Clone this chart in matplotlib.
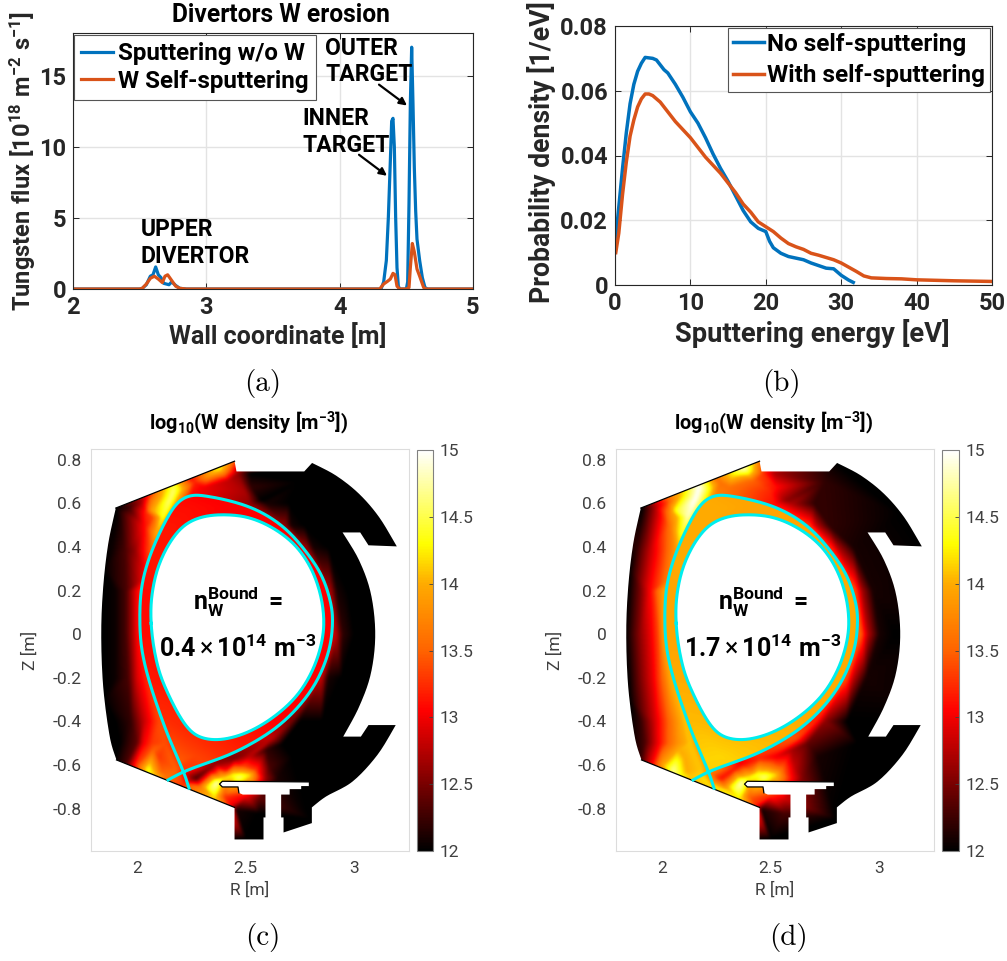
import numpy as np
import matplotlib
matplotlib.use("Agg")
import matplotlib.pyplot as plt
import matplotlib.tri as mtri
from matplotlib.colors import LinearSegmentedColormap
from matplotlib.patches import PathPatch
from matplotlib.path import Path

plt.rcParams['font.family'] = ['Roboto', 'DejaVu Sans']
plt.rcParams['mathtext.fontset'] = 'custom'
plt.rcParams['mathtext.rm'] = 'Roboto'
plt.rcParams['mathtext.bf'] = 'Roboto:bold'
plt.rcParams['mathtext.it'] = 'Roboto:italic'

# ---------- panel (a) ----------
WALL_X = [2, 2.5, 2.52, 2.55, 2.58, 2.6, 2.62, 2.64, 2.66, 2.68, 2.7, 2.72, 2.74, 2.77, 2.8, 2.85,
          4.3, 4.31, 4.33, 4.35, 4.365, 4.38, 4.39, 4.40, 4.41, 4.42, 4.43, 4.44, 4.45,
          4.50, 4.51, 4.52, 4.53, 4.54, 4.55, 4.56, 4.57, 4.58, 4.60, 4.62, 4.64, 4.66, 5]
FLUX_SPUTTER = [0, 0, .05, .3, .9, 1.0, 1.55, 1.0, .8, .4, .35, .3, .5, .25, .05, 0,
                0, 0, .5, 2, 5, 9, 11.8, 12, 10, 5, 1.5, .2, 0,
                0, .5, 6, 13, 17, 13, 8.5, 5.5, 3.5, 2, .8, .1, 0, 0]
SELF_X = [2, 2.5, 2.52, 2.55, 2.58, 2.61, 2.64, 2.67, 2.69, 2.71, 2.74, 2.77, 2.8, 2.85,
          4.3, 4.33, 4.36, 4.38, 4.40, 4.415, 4.43, 4.45, 4.5, 4.52, 4.53, 4.545, 4.56, 4.58, 4.60, 4.63, 4.65, 5]
FLUX_SELF = [0, 0, .05, .35, .75, .9, .7, .45, .9, 1.0, .6, .2, .05, 0,
             0, .35, .55, .7, 1.1, 1.0, .2, 0, 0, .1, 1.5, 3.2, 2.6, 1.4, .9, .1, 0, 0]

# ---------- panel (b) ----------
E_NO = [0, .5, 1, 1.5, 2, 2.5, 3, 3.5, 4, 5, 5.5, 6, 6.5, 7, 8, 9, 10, 11, 12, 13, 14, 15, 16, 17, 18, 19, 20,
        20.5, 21, 22, 23, 24, 25, 26, 27, 28, 29, 30, 31, 31.6]
PDF_NO = [.012, .024, .036, .047, .056, .062, .066, .0685, .0703, .070, .0695, .068, .0665, .0655, .062, .058,
          .0535, .050, .0455, .0405, .036, .032, .0275, .023, .0195, .0175, .0165, .0135, .0115, .0098, .0088,
          .0083, .0078, .0068, .006, .0052, .005, .003, .0015, .0008]
E_WITH = [.1, .5, 1, 1.5, 2, 2.5, 3, 3.5, 4, 4.5, 5, 6, 7, 8, 9, 10, 11, 12, 13, 14, 15, 16, 17, 18, 19, 20, 21, 22,
          23, 24, 25, 26, 27, 28, 29, 30, 31, 32, 33, 34, 36, 38, 40, 45, 50]
PDF_WITH = [.010, .016, .028, .038, .046, .051, .055, .0575, .059, .059, .0585, .0565, .0535, .0505, .048, .0455,
            .0425, .0395, .037, .0345, .0315, .0285, .025, .0225, .0195, .018, .0165, .0145, .0128, .0118, .011,
            .0098, .0092, .0085, .0078, .0068, .0055, .0042, .0028, .0022, .002, .0019, .0016, .0013, .0011]

# ---------- panels (c), (d): machine geometry, read in metres ----------
WALL_LEFT_R = [1.904, 1.869, 1.846, 1.837, 1.846, 1.876, 1.907]
WALL_LEFT_Z = [.579, .415, .217, .003, -.241, -.470, -.577]
DIVERTOR_R = [2.449, 2.449, 2.582, 2.582, 2.591, 2.591, 2.487, 2.469, 2.465, 2.393, 2.380, 2.393, 2.790, 2.790,
              2.755, 2.755, 2.702, 2.702, 2.663, 2.663, 2.674, 2.674, 2.804, 2.804]
DIVERTOR_Z = [-.795, -.942, -.942, -.841, -.841, -.736, -.736, -.728, -.701, -.701, -.688, -.675, -.678, -.697,
              -.697, -.711, -.711, -.736, -.736, -.841, -.841, -.910, -.867, -.795]
ARC_LOW_R = [2.804, 2.869, 2.991, 3.105, 3.189]
ARC_LOW_Z = [-.795, -.745, -.676, -.554, -.417]
NOTCH_LOW_R = [3.064, 3.029, 2.948]
NOTCH_LOW_Z = [-.417, -.470, -.470]
ARC_IN_R = [2.948, 3.021, 3.075, 3.095, 3.075, 3.021, 2.945]
ARC_IN_Z = [-.470, -.333, -.180, 0, .186, .339, .467]
NOTCH_UP_R = [3.026, 3.064, 3.194]
NOTCH_UP_Z = [.467, .408, .403]
ARC_UP_R = [3.194, 3.113, 3.021, 2.915, 2.805]
ARC_UP_Z = [.403, .537, .644, .728, .786]
TOP_R = [2.769, 2.458, 2.449]
TOP_Z = [.747, .747, .794]

SEP_R = [2.240, 2.215, 2.151, 2.090, 2.047, 2.021, 2.014, 2.021, 2.063, 2.133, 2.189, 2.250, 2.319, 2.441, 2.563,
         2.685, 2.785, 2.853, 2.892, 2.899, 2.884, 2.823, 2.716, 2.594, 2.441, 2.319, 2.215, 2.144]
SEP_Z = [-.707, -.631, -.485, -.318, -.180, -.058, .064, .217, .369, .522, .606, .637, .634, .609, .565,
         .484, .369, .263, .140, .049, -.073, -.226, -.363, -.463, -.547, -.592, -.631, -.669]
CORE_R = [2.063, 2.067, 2.082, 2.121, 2.182, 2.258, 2.365, 2.472, 2.563, 2.685, 2.762, 2.823, 2.853, 2.861, 2.846,
          2.785, 2.701, 2.579, 2.472, 2.365, 2.289, 2.227, 2.166, 2.121, 2.082]
CORE_Z = [.064, .156, .263, .369, .469, .530, .550, .545, .522, .453, .369, .263, .140, .049, -.073,
          -.218, -.325, -.417, -.467, -.489, -.473, -.432, -.318, -.226, -.104]

# ---------- scrape-off layer log10 W density samples ----------
SOL_R = [1.78, 3.25, 3.25, 1.78, 2.0, 3.25,
         1.906, 1.85, 1.84, 1.85, 1.90,
         1.90, 1.95, 1.99, 2.015,
         1.90, 1.95, 1.985, 2.005,
         1.90, 1.96, 2.00, 2.04,
         1.90, 1.97, 2.03, 2.09, 2.11,
         1.92, 2.0, 2.07, 2.13,
         2.38, 2.327, 2.266, 2.212, 2.166, 2.113, 2.067, 2.021, 1.96,
         2.151, 2.12, 2.09, 2.067, 2.044, 2.075, 2.067, 2.04, 2.036, 1.99, 1.945, 1.883,
         2.25, 2.31, 2.42, 2.464, 2.526, 2.571, 2.446, 2.52, 2.5,
         2.17, 2.10, 2.03, 2.25, 2.38,
         2.052, 1.998, 1.952, 2.10, 2.075, 2.029, 2.113, 2.09, 2.136, 2.18, 2.212, 2.05,
         2.273, 2.319, 2.289, 2.335, 2.365, 2.357, 2.403, 2.434,
         2.472, 2.44, 2.396, 2.518, 2.549, 2.487, 2.411, 2.61, 2.595, 2.65, 2.518, 2.365,
         2.503, 2.564, 2.457, 2.564, 2.50, 2.595, 2.67, 2.717,
         2.62, 2.45, 2.33,
         2.68, 2.71, 2.77, 2.78, 2.81, 2.88, 2.89, 2.92, 2.97,
         2.915, 2.945, 3.0, 2.85, 2.88, 2.94, 2.71, 2.75, 2.85,
         2.52, 2.6, 2.7, 2.75, 3.2, 3.2, 2.8, 3.1, 2.8, 3.07, 2.9]
SOL_Z = [.85, .85, -1.0, -1.0, -1.0, 0,
         .579, .30, 0, -.30, -.58,
         .2, .2, .2, .2,
         0, 0, 0, 0,
         -.2, -.2, -.2, -.2,
         -.4, -.4, -.4, -.4, -.4,
         -.5, -.5, -.5, -.5,
         .76, .729, .699, .668, .653, .638, .622, .607, .584,
         .615, .538, .462, .385, .263, .538, .569, .56, .492, .385, .385, .385,
         .645, .676, .706, .737, .676, .615, .795, .74, .65,
         .68, .655, .628, .715, .767,
         -.624, -.601, -.594, -.563, -.532, -.502, -.632, -.647, -.655, -.624, -.685, -.636,
         -.662, -.616, -.701, -.716, -.685, -.746, -.746, -.785,
         -.655, -.647, -.662, -.647, -.624, -.609, -.624, -.609, -.662, -.66, -.563, -.594,
         -.746, -.754, -.808, -.823, -.94, -.532, -.502, -.563,
         -.48, -.57, -.62,
         .5, .5, .5, .4, .4, .4, .2, .2, .2,
         0, 0, 0, -.2, -.2, -.2, -.4, -.4, -.4,
         .6, .6, .6, .7, .41, -.42, .79, .55, -.85, 0, -.5]
SOL_C = [12, 12, 12, 12, 12, 12,
         12, 12, 12, 12, 12,
         12.05, 12.3, 12.9, 13.2,
         12.05, 12.3, 12.8, 13.1,
         12.05, 12.3, 12.9, 13.2,
         12, 12.2, 12.8, 13.3, 13.4,
         12, 12.4, 13.3, 13.4,
         14.3, 13.9, 13.2, 14.0, 14.6, 14.0, 13.6, 12.7, 12.2,
         14.6, 14.4, 14.0, 13.5, 13.1, 13.4, 13.9, 13.2, 13.1, 12.6, 12.3, 12.05,
         13.1, 13.0, 12.8, 12.6, 12.2, 12.0, 13.5, 12.0, 12.7,
         14.5, 13.8, 12.8, 13.1, 14.3,
         14.4, 13.3, 12.3, 13.3, 13.5, 13.0, 13.5, 14.0, 13.6, 13.5, 13.3, 14.3,
         12.3, 12.7, 13.6, 14.4, 14.8, 14.2, 13.3, 13.0,
         14.6, 14.3, 14.2, 14.2, 13.3, 13.4, 13.1, 12.3, 12.6, 12.1, 12.8, 12.6,
         13.0, 12.4, 12.1, 12.0, 12, 12.2, 12.0, 12,
         12.8, 12.5, 12.5,
         12.6, 12.1, 12, 12.6, 12.1, 12, 12.7, 12.1, 12,
         12.8, 12.2, 12, 12.8, 12.1, 12, 12.5, 12, 12,
         12.6, 12.1, 12, 12, 12, 12, 12, 12, 12, 12, 12]
SOL_D = [12, 12, 12, 12, 12, 12,
         12, 12, 12.05, 12, 12.2,
         12.5, 13.1, 13.7, 14.0,
         12.6, 13.0, 13.4, 13.9,
         12.5, 13.0, 13.5, 14.0,
         12.2, 12.9, 13.5, 14.0, 14.1,
         12.3, 13.2, 13.8, 14.1,
         14.8, 14.2, 13.6, 14.4, 15.0, 14.4, 13.9, 13.3, 12.6,
         15.0, 14.8, 14.4, 13.9, 13.8, 14.1, 14.4, 13.8, 13.6, 13.2, 12.8, 12.2,
         13.7, 13.6, 13.5, 13.3, 13.1, 12.6, 13.7, 12.7, 13.2,
         15.0, 14.2, 13.6, 13.6, 14.8,
         14.7, 13.9, 13.0, 14.0, 14.0, 13.5, 14.0, 14.3, 14.1, 14.1, 14.2, 14.6,
         13.1, 13.3, 13.8, 14.5, 14.8, 14.3, 13.5, 13.2,
         14.6, 14.4, 14.3, 14.2, 13.6, 13.7, 13.6, 12.8, 13.1, 12.5, 13.0, 13.0,
         13.2, 12.9, 12.1, 12.3, 12, 12.7, 12.4, 12.1,
         13.4, 13.2, 13.1,
         13.3, 12.8, 12.2, 13.2, 12.7, 12.1, 13.4, 12.7, 12.1,
         13.5, 12.8, 12.1, 13.4, 12.8, 12.1, 13.2, 12.6, 12,
         13.1, 12.7, 12.2, 12.2, 12, 12, 12, 12, 12, 12, 12]

# ---------- confined ring between separatrix and core boundary ----------
RING_R = [1.78, 3.25, 3.25, 1.78,
          2.40, 2.25, 2.15, 2.09, 2.04, 2.04, 2.06, 2.14, 2.2, 2.27, 2.35, 2.5, 2.65, 2.8, 2.88, 2.87, 2.78, 2.62]
RING_Z = [.85, .85, -1.0, -1.0,
          .59, .58, .48, .32, .2, 0, -.2, -.4, -.58, -.56, -.53, -.5, -.38, -.2, 0, .2, .36, .52]
RING_C = [13.05, 13.05, 13.05, 13.05,
          13.05, 13.1, 13.15, 13.15, 13.1, 13.1, 13.15, 13.25, 13.45, 13.35, 13.25, 13.15, 13.05, 13.05, 13.05, 13.05, 13.05, 13.05]
RING_D = [14.0, 14.0, 14.0, 14.0,
          13.95, 14.0, 14.0, 14.0, 13.95, 13.95, 14.0, 14.05, 14.15, 14.15, 14.1, 14.05, 14.0, 14.0, 14.0, 14.0, 14.0, 13.95]

CBAR_TICKS = [12, 12.5, 13, 13.5, 14, 14.5, 15]
CBAR_LABELS = ['12', '12.5', '13', '13.5', '14', '14.5', '15']

BLUE = '#0072BD'
ORANGE = '#D95319'
DARK = '#262626'
W, H = 1007, 961
fig = plt.figure(figsize=(W / 100, H / 100), dpi=100)


def axes_px(left, top, right, bottom):
    return fig.add_axes([left / W, 1 - bottom / H, (right - left) / W, (bottom - top) / H])


def spline(r, z, n=12):
    p = np.column_stack([r, z]).astype(float)
    p = np.vstack([p[0], p, p[-1]])
    out = []
    for i in range(1, len(p) - 2):
        for t in np.linspace(0, 1, n, endpoint=False):
            out.append(0.5 * (2 * p[i] + (p[i + 1] - p[i - 1]) * t
                              + (2 * p[i - 1] - 5 * p[i] + 4 * p[i + 1] - p[i + 2]) * t ** 2
                              + (3 * p[i] - p[i - 1] - 3 * p[i + 1] + p[i + 2]) * t ** 3))
    out.append(p[-2])
    return np.array(out)


def closed_smooth(r, z, k=10):
    r = list(r) + [r[0]]
    z = list(z) + [z[0]]
    pts = spline(r[-3:-1] + r + r[1:3], z[-3:-1] + z + z[1:3])[24:-24][:-1]
    kernel = np.ones(2 * k + 1) / (2 * k + 1)
    padded = np.vstack([pts[-k:], pts, pts[:k]])
    out = np.column_stack([np.convolve(padded[:, i], kernel, mode='valid') for i in range(2)])
    return np.vstack([out, out[0]])


def open_smooth(r, z, k=6):
    pts = spline(r, z)
    kernel = np.ones(2 * k + 1) / (2 * k + 1)
    out = pts.copy()
    for i in range(2):
        out[k:-k, i] = np.convolve(pts[:, i], kernel, mode='valid')
    return out


def smooth_field(field, k=3):
    kernel = np.ones(2 * k + 1) / (2 * k + 1)
    a = np.ma.filled(field, 12.0)
    a = np.apply_along_axis(lambda v: np.convolve(np.pad(v, k, mode='edge'), kernel, mode='valid'), 0, a)
    a = np.apply_along_axis(lambda v: np.convolve(np.pad(v, k, mode='edge'), kernel, mode='valid'), 1, a)
    return a


def style_line_axes(ax):
    ax.grid(True, color='#e3e3e3', lw=1.0)
    ax.set_axisbelow(True)
    ax.tick_params(direction='in', top=True, right=True, length=4, width=0.7, color=DARK,
                   labelcolor=DARK, labelsize=17, pad=5)
    for s in ax.spines.values():
        s.set_color(DARK)
        s.set_linewidth(0.8)
    for t in ax.get_xticklabels() + ax.get_yticklabels():
        t.set_fontweight('bold')


# ---- (a)
ax = axes_px(73, 33, 473, 289)
ax.plot(WALL_X, FLUX_SPUTTER, color=BLUE, lw=2.3, label='Sputtering w/o W')
ax.plot(SELF_X, FLUX_SELF, color=ORANGE, lw=2.3, label='W Self-sputtering')
ax.set_xlim(2, 5)
ax.set_ylim(0, 18)
ax.set_xticks([2, 3, 4, 5])
ax.set_yticks([0, 5, 10, 15])
style_line_axes(ax)
ax.set_title('Divertors W erosion', fontsize=17.7, fontweight='bold', color='black', x=0.52, pad=8)
ax.set_xlabel('Wall coordinate [m]', fontsize=18, fontweight='bold', color=DARK, labelpad=3, x=0.5125)
ax.set_ylabel(r'$\mathbf{Tungsten\ flux\ [10^{18}\ m^{-2}\ s^{-1}]}$', fontsize=17, color=DARK, labelpad=1, y=0.5)
leg = ax.legend(loc='upper left', bbox_to_anchor=(0.003, 0.993), prop={'weight': 'bold', 'size': 17.4},
                frameon=True, fancybox=False, framealpha=1, edgecolor='#555555', borderaxespad=0,
                handlelength=1.3, handletextpad=0.2, labelspacing=0.2, borderpad=0.3)
leg.get_frame().set_linewidth(0.8)
for text, x, y in [('OUTER', 3.89, 16.9), ('TARGET', 3.89, 15.1), ('INNER', 3.72, 12.0), ('TARGET', 3.72, 10.1),
                   ('UPPER', 2.51, 4.15), ('DIVERTOR', 2.51, 2.3)]:
    ax.text(x, y, text, fontsize=16.6, fontweight='bold', va='center', ha='left', color='black')
for (x0, y0, x1, y1) in [(4.295, 14.37, 4.505, 12.9), (4.145, 9.44, 4.355, 7.96)]:
    ax.annotate('', xy=(x1, y1), xytext=(x0, y0),
                arrowprops=dict(arrowstyle='-|>', color='black', lw=1.6, mutation_scale=11, shrinkA=0, shrinkB=0))

# ---- (b)
ax = axes_px(615, 26, 992, 285)
ax.plot(E_NO, PDF_NO, color=BLUE, lw=2.5, label='No self-sputtering')
ax.plot(E_WITH, PDF_WITH, color=ORANGE, lw=2.5, label='With self-sputtering')
ax.set_xlim(0, 50)
ax.set_ylim(0, 0.08)
ax.set_xticks([0, 10, 20, 30, 40, 50])
ax.set_yticks([0, .02, .04, .06, .08])
ax.set_yticklabels(['0', '0.02', '0.04', '0.06', '0.08'])
style_line_axes(ax)
ax.set_xlabel('Sputtering energy [eV]', fontsize=19.7, fontweight='bold', color=DARK, labelpad=3, x=0.5225)
ax.set_ylabel('Probability density [1/eV]', fontsize=19.2, fontweight='bold', color=DARK, labelpad=3, y=0.514)
leg = ax.legend(loc='upper right', bbox_to_anchor=(0.995, 0.992), prop={'weight': 'bold', 'size': 17.5},
                frameon=True, fancybox=False, framealpha=1, edgecolor='#555555', borderaxespad=0,
                handlelength=1.25, handletextpad=0.15, labelspacing=0.35, borderpad=0.2)
leg.get_frame().set_linewidth(0.8)

# ---- (c), (d)
cmap = LinearSegmentedColormap.from_list('wdens', [
    (0.0, (0, 0, 0)), (1.05 / 3, (1, 0, 0)), (1.5 / 3, (1, 0.39, 0)), (2.0 / 3, (1, 0.67, 0)),
    (2.3 / 3, (1, 1, 0)), (1.0, (1, 1, 1))])
cmap.set_bad((1, 1, 1, 0))

wall_pts = np.vstack([
    spline(WALL_LEFT_R, WALL_LEFT_Z),
    np.column_stack([DIVERTOR_R, DIVERTOR_Z]),
    spline(ARC_LOW_R, ARC_LOW_Z),
    np.column_stack([NOTCH_LOW_R, NOTCH_LOW_Z]),
    spline(ARC_IN_R, ARC_IN_Z),
    np.column_stack([NOTCH_UP_R, NOTCH_UP_Z]),
    spline(ARC_UP_R, ARC_UP_Z),
    np.column_stack([TOP_R, TOP_Z]),
])
sep_pts = open_smooth(SEP_R, SEP_Z)
loop_pts = sep_pts[12:-12]
core_pts = closed_smooth(CORE_R, CORE_Z)
sol_tri = mtri.Triangulation(SOL_R, SOL_Z)
ring_tri = mtri.Triangulation(RING_R, RING_Z)
RG, ZG = np.meshgrid(np.linspace(1.79, 3.25, 500), np.linspace(-0.995, 0.85, 640))
EXTENT = (1.79, 3.25, -0.995, 0.85)


def torus_panel(left, right, cb_left, cb_right, sol_values, ring_values, line1, line2):
    ax = axes_px(left, 449, right, 851)
    field = smooth_field(mtri.LinearTriInterpolator(sol_tri, np.array(sol_values, dtype=float))(RG, ZG))
    im = ax.imshow(field, extent=EXTENT, origin='lower', cmap=cmap, vmin=12, vmax=15,
                   aspect='auto', interpolation='bilinear', zorder=1)
    im.set_clip_path(PathPatch(Path(wall_pts, closed=False), transform=ax.transData))
    ring = smooth_field(mtri.LinearTriInterpolator(ring_tri, np.array(ring_values, dtype=float))(RG, ZG))
    im2 = ax.imshow(ring, extent=EXTENT, origin='lower', cmap=cmap, vmin=12, vmax=15,
                    aspect='auto', interpolation='bilinear', zorder=1.5)
    im2.set_clip_path(PathPatch(Path(loop_pts, closed=False), transform=ax.transData))
    ax.fill(core_pts[:, 0], core_pts[:, 1], color='white', zorder=2)
    ax.plot(sep_pts[:, 0], sep_pts[:, 1], color='#00EEEE', lw=2.2, zorder=4)
    ax.plot(core_pts[:, 0], core_pts[:, 1], color='#00EEEE', lw=2.2, zorder=4)
    ax.plot([WALL_LEFT_R[0], TOP_R[-1]], [WALL_LEFT_Z[0], TOP_Z[-1]], color='black', lw=0.9, zorder=3)
    ax.plot([WALL_LEFT_R[-1], DIVERTOR_R[0]], [WALL_LEFT_Z[-1], DIVERTOR_Z[0]], color='black', lw=0.9, zorder=3)
    ax.plot(DIVERTOR_R[7:13], DIVERTOR_Z[7:13], color='black', lw=0.9, zorder=3)
    ax.set_xlim(1.79, 3.25)
    ax.set_ylim(-0.995, 0.85)
    ax.set_xticks([2, 2.5, 3])
    ax.set_xticklabels(['2', '2.5', '3'])
    ax.set_yticks([-.8, -.6, -.4, -.2, 0, .2, .4, .6, .8])
    ax.set_yticklabels(['-0.8', '-0.6', '-0.4', '-0.2', '0', '0.2', '0.4', '0.6', '0.8'])
    ax.tick_params(length=0, labelsize=12.5, labelcolor='#404040', pad=7)
    for s in ax.spines.values():
        s.set_color('#dcdcdc')
        s.set_linewidth(0.8)
    ax.set_xlabel('R [m]', fontsize=12.5, color='#404040', labelpad=4)
    ax.set_ylabel('Z [m]', fontsize=12.5, color='#404040', labelpad=10)
    ax.set_title(r'$\mathbf{log_{10}(W\ density\ [m^{-3}])}$', fontsize=14.4, color='black', pad=14, x=0.495)
    ax.text(2.464, 0.148, line1, fontsize=18, ha='center', va='center', color='black', zorder=5)
    ax.text(2.464, -0.066, line2, fontsize=18, ha='center', va='center', color='black', zorder=5)
    cax = axes_px(cb_left, 450, cb_right, 851)
    cb = fig.colorbar(im, cax=cax)
    cb.set_ticks(CBAR_TICKS)
    cb.set_ticklabels(CBAR_LABELS)
    cax.tick_params(direction='in', length=3, width=0.6, color='#404040', labelsize=12.5, labelcolor='#404040', pad=5)
    cb.outline.set_edgecolor('#808080')
    cb.outline.set_linewidth(0.8)


torus_panel(91, 409, 417, 433, SOL_C, RING_C, r'$\mathbf{n_W^{Bound}}$ $\mathbf{=}$',
            r'$\mathbf{0.4}\times\mathbf{10^{14}\ m^{-3}}$')
torus_panel(616, 934, 942, 959, SOL_D, RING_D, r'$\mathbf{n_W^{Bound}}$ $\mathbf{=}$',
            r'$\mathbf{1.7}\times\mathbf{10^{14}\ m^{-3}}$')

for label, x, y in [('(a)', 263, 383), ('(b)', 781, 383), ('(c)', 263, 938), ('(d)', 788, 938)]:
    fig.text(x / W, 1 - y / H, label, family='cmr10', fontsize=21, ha='center', va='center', color='black')

fig.savefig('out.png', dpi=100)
